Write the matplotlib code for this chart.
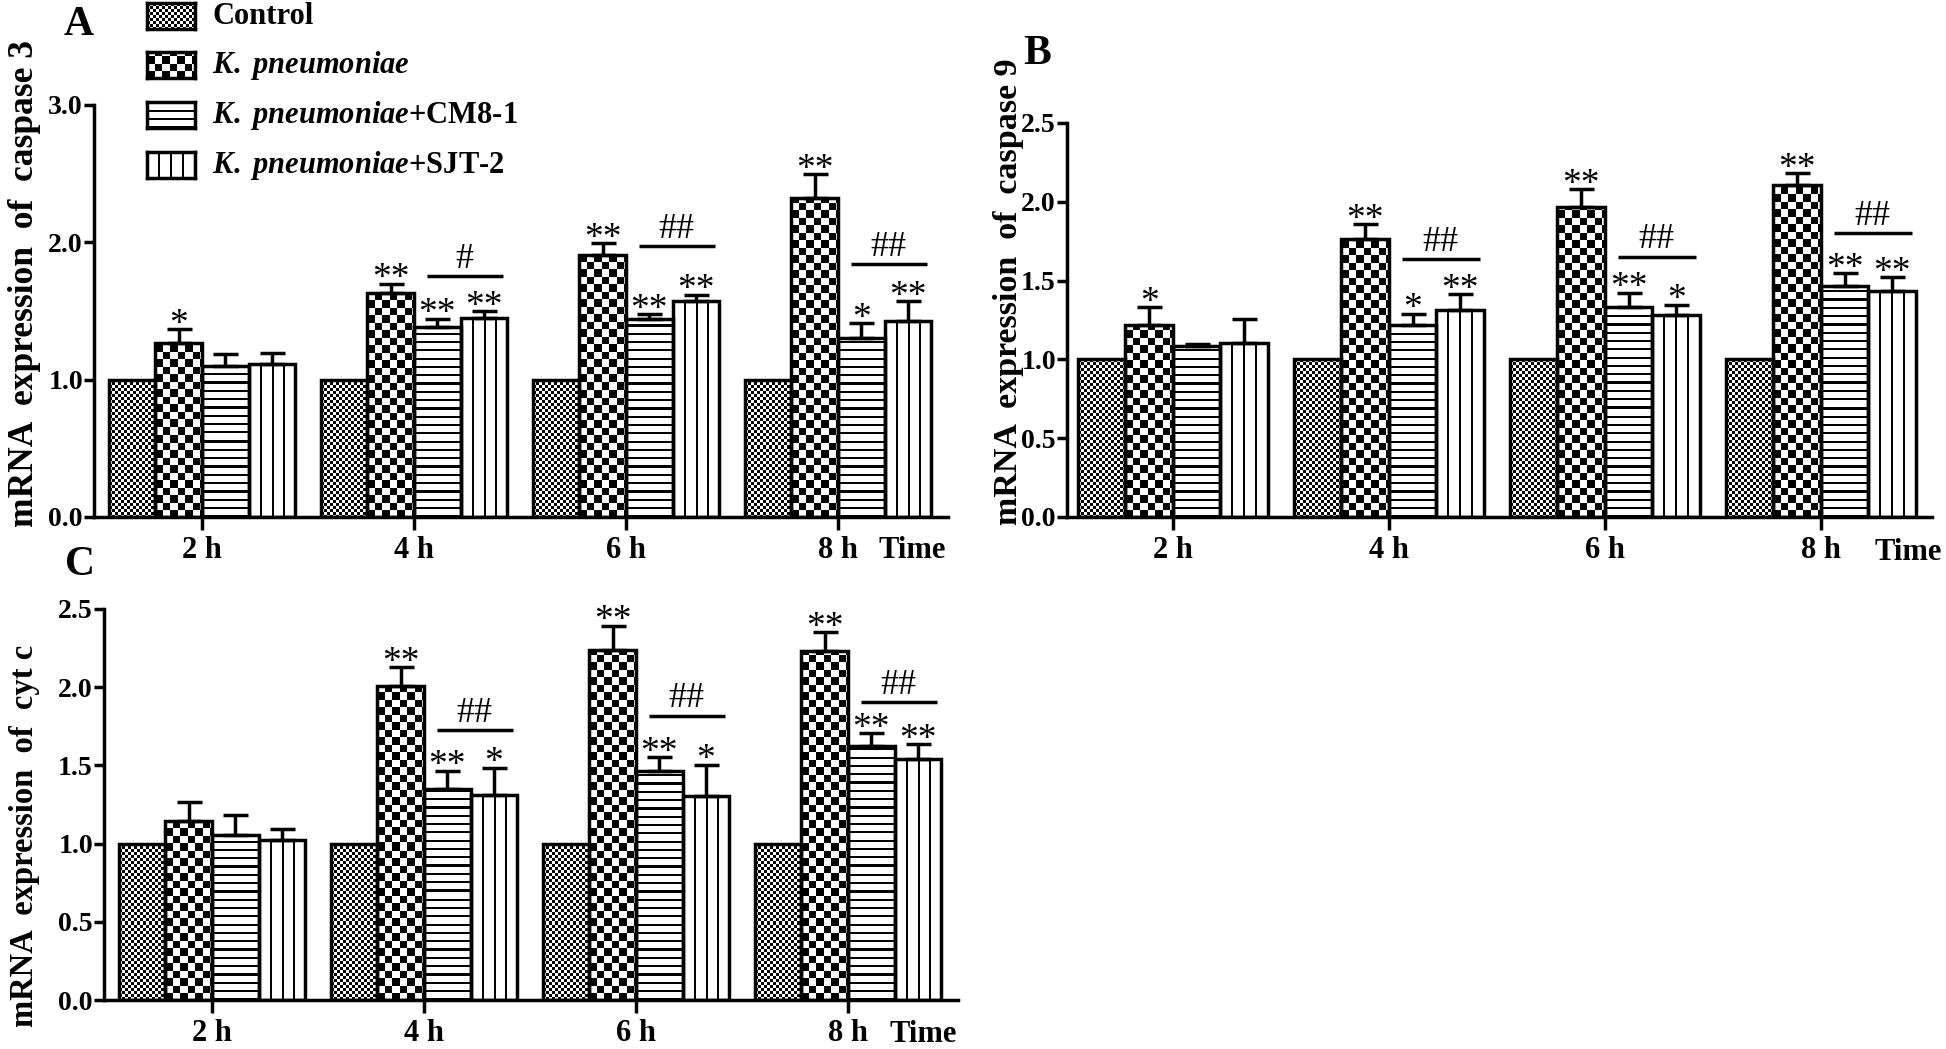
import numpy as np
import matplotlib
matplotlib.use('Agg')
import matplotlib.pyplot as plt

plt.rcParams['font.family'] = 'Liberation Serif'
plt.rcParams['font.weight'] = 'bold'
plt.rcParams['mathtext.fontset'] = 'custom'
plt.rcParams['mathtext.it'] = 'Liberation Serif:italic:bold'
plt.rcParams['mathtext.rm'] = 'Liberation Serif:bold'

'''
data (read off the figure)
'''

times = ['2 h', '4 h', '6 h', '8 h']
groups = ['Control', r'$\mathit{K.}$ $\mathit{pneumoniae}$',
          r'$\mathit{K.}$ $\mathit{pneumoniae}$+CM8-1', r'$\mathit{K.}$ $\mathit{pneumoniae}$+SJT-2']

# A: caspase 3
casp3_control = [1.0, 1.0, 1.0, 1.0]
casp3_kp = [1.27, 1.63, 1.91, 2.32]
casp3_kp_err = [0.10, 0.07, 0.085, 0.18]
casp3_cm8 = [1.10, 1.38, 1.44, 1.30]
casp3_cm8_err = [0.09, 0.065, 0.035, 0.115]
casp3_sjt = [1.115, 1.45, 1.57, 1.43]
casp3_sjt_err = [0.08, 0.05, 0.05, 0.14]
casp3_stars_kp = ['*', '**', '**', '**']
casp3_stars_cm8 = ['', '**', '**', '*']
casp3_stars_sjt = ['', '**', '**', '**']
casp3_hash = ['', '#', '##', '##']
casp3_hash_y = [0, 1.755, 1.97, 1.84]

# B: caspase 9
casp9_control = [1.0, 1.0, 1.0, 1.0]
casp9_kp = [1.216, 1.761, 1.966, 2.107]
casp9_kp_err = [0.114, 0.10, 0.114, 0.075]
casp9_cm8 = [1.084, 1.216, 1.334, 1.466]
casp9_cm8_err = [0.014, 0.075, 0.09, 0.08]
casp9_sjt = [1.107, 1.311, 1.284, 1.432]
casp9_sjt_err = [0.148, 0.105, 0.064, 0.09]
casp9_stars_kp = ['*', '**', '**', '**']
casp9_stars_cm8 = ['', '*', '**', '**']
casp9_stars_sjt = ['', '**', '*', '**']
casp9_hash = ['', '##', '##', '##']
casp9_hash_y = [0, 1.636, 1.652, 1.80]

# C: cyt c
cytc_control = [1.0, 1.0, 1.0, 1.0]
cytc_kp = [1.143, 2.008, 2.239, 2.232]
cytc_kp_err = [0.12, 0.12, 0.155, 0.12]
cytc_cm8 = [1.053, 1.352, 1.461, 1.625]
cytc_cm8_err = [0.13, 0.115, 0.095, 0.08]
cytc_sjt = [1.023, 1.311, 1.305, 1.542]
cytc_sjt_err = [0.07, 0.175, 0.2, 0.095]
cytc_stars_kp = ['', '**', '**', '**']
cytc_stars_cm8 = ['', '**', '**', '**']
cytc_stars_sjt = ['', '*', '*', '**']
cytc_hash = ['', '##', '##', '##']
cytc_hash_y = [0, 1.727, 1.819, 1.904]

'''
figure
'''

W, H, DPI = 1946, 1049, 100
fig = plt.figure(figsize=(W / DPI, H / DPI), dpi=DPI)
fig.patch.set_facecolor('white')

bar_w = 0.22
offsets = [-0.33, -0.11, 0.11, 0.33]


def px_axes(left, top, right, bottom):
    return fig.add_axes([left / W, 1 - bottom / H, (right - left) / W, (bottom - top) / H])


def fig_text(x, y, s, **kw):
    fig.text(x / W, 1 - y / H, s, **kw)


def fill_pattern(kind, w, h):
    yy, xx = np.mgrid[0:h, 0:w]
    if kind == 0:  # fine checker
        img = (xx // 3 + yy // 3) % 2
    elif kind == 1:  # coarse checker
        img = (np.floor(xx / 7.5) + np.floor((h - yy) / 7.5)) % 2
    elif kind == 2:  # horizontal lines
        img = ((h - yy) % 8.3) > 2.2
    else:  # vertical lines
        img = np.ones((h, w))
        for k in (1, 2, 3):
            c = int(round(w * k / 4.0))
            img[:, c - 1:c + 1] = 0
    return img.astype(float)


def draw_panel(ax, xlim, ymax, ystep, values, errors, stars, hash_text, hash_y):
    x = np.arange(len(times))
    ax.set_xlim(*xlim)
    ax.set_ylim(0, ymax)
    for k in range(4):
        xs = x + offsets[k]
        bars = ax.bar(xs, values[k], width=bar_w, facecolor='none',
                      edgecolor='black', linewidth=2.5, zorder=3)
        for b in bars:
            x0, x1 = b.get_x(), b.get_x() + b.get_width()
            y1 = b.get_height()
            (p0x, p0y), (p1x, p1y) = ax.transData.transform([(x0, 0), (x1, y1)])
            w = max(int(round(p1x - p0x)), 1)
            h = max(int(round(p1y - p0y)), 1)
            im = ax.imshow(fill_pattern(k, w, h), extent=(x0, x1, 0, y1), cmap='gray',
                           vmin=0, vmax=1, interpolation='nearest', aspect='auto', zorder=2)
            im.set_clip_path(b)
        if errors[k] is not None:
            ax.errorbar(xs, values[k], yerr=[np.zeros(len(xs)), errors[k]], fmt='none',
                        ecolor='black', elinewidth=2.5, capsize=9, capthick=2.5, zorder=4)
            for i in range(len(xs)):
                if stars[k][i]:
                    ax.annotate(stars[k][i], (xs[i], values[k][i] + errors[k][i]),
                                xytext=(0, -3.5), textcoords='offset points',
                                ha='center', va='baseline', fontsize=27,
                                fontweight='normal', annotation_clip=False)
    for i in range(len(x)):
        if hash_text[i]:
            ax.plot([x[i] + 0.06, x[i] + 0.42], [hash_y[i], hash_y[i]],
                    color='black', linewidth=2.5, solid_capstyle='butt', clip_on=False)
            ax.annotate(hash_text[i], (x[i] + 0.24, hash_y[i]), xytext=(0, 6),
                        textcoords='offset points', ha='center', va='baseline',
                        fontsize=26, fontweight='normal', annotation_clip=False)
    ax.set_xlim(*xlim)
    ax.set_ylim(0, ymax)
    ax.set_yticks(np.arange(0, ymax + 0.01, ystep))
    ax.set_yticklabels(['%.1f' % v for v in np.arange(0, ymax + 0.01, ystep)])
    ax.set_xticks(x)
    ax.set_xticklabels(times)
    for s in ['top', 'right']:
        ax.spines[s].set_visible(False)
    for s in ['left', 'bottom']:
        ax.spines[s].set_linewidth(2.5)
    ax.tick_params(axis='y', direction='out', length=7, width=2.5, pad=1, labelsize=20)
    ax.tick_params(axis='x', direction='out', length=9, width=2.5, pad=5, labelsize=22)
    ax.patch.set_alpha(0)


# panel A
axA = px_axes(94, 105, 948, 517)
draw_panel(axA, (-0.509, 3.519), 3.0, 1.0,
           [casp3_control, casp3_kp, casp3_cm8, casp3_sjt],
           [None, casp3_kp_err, casp3_cm8_err, casp3_sjt_err],
           [None, casp3_stars_kp, casp3_stars_cm8, casp3_stars_sjt],
           casp3_hash, casp3_hash_y)

# panel B
axB = px_axes(1067, 123, 1932, 517)
draw_panel(axB, (-0.49, 3.514), 2.5, 0.5,
           [casp9_control, casp9_kp, casp9_cm8, casp9_sjt],
           [None, casp9_kp_err, casp9_cm8_err, casp9_sjt_err],
           [None, casp9_stars_kp, casp9_stars_cm8, casp9_stars_sjt],
           casp9_hash, casp9_hash_y)

# panel C
axC = px_axes(104, 609, 958, 1000)
draw_panel(axC, (-0.509, 3.519), 2.5, 0.5,
           [cytc_control, cytc_kp, cytc_cm8, cytc_sjt],
           [None, cytc_kp_err, cytc_cm8_err, cytc_sjt_err],
           [None, cytc_stars_kp, cytc_stars_cm8, cytc_stars_sjt],
           cytc_hash, cytc_hash_y)

# axis titles, panel letters
fig_text(25, 283, 'mRNA  expression  of  caspase 3', rotation=90, ha='center', va='center', fontsize=25.5)
fig_text(1008, 292, 'mRNA  expression  of  caspase 9', rotation=90, ha='center', va='center', fontsize=24.5)
fig_text(25, 836, 'mRNA  expression  of  cyt c', rotation=90, ha='center', va='center', fontsize=23.5)
fig_text(912, 550, 'Time', ha='center', va='center', fontsize=22)
fig_text(1908, 552, 'Time', ha='center', va='center', fontsize=22)
fig_text(923, 1035, 'Time', ha='center', va='center', fontsize=22)
fig_text(79, 25, 'A', ha='center', va='center', fontsize=30)
fig_text(1037, 54, 'B', ha='center', va='center', fontsize=30)
fig_text(80, 565, 'C', ha='center', va='center', fontsize=30)

# legend (swatches drawn with the same fills as the bars)
leg_rows = [16, 65, 115, 165]
for k, (row, label) in enumerate(zip(leg_rows, groups)):
    sw = px_axes(147, row - 13, 195, row + 13)
    sw.imshow(fill_pattern(k, 48, 26), cmap='gray', vmin=0, vmax=1,
              interpolation='nearest', aspect='auto')
    sw.set_xticks([])
    sw.set_yticks([])
    for s in sw.spines.values():
        s.set_linewidth(2.5)
    fig_text(212, row, label, ha='left', va='center', fontsize=22)

fig.savefig('out.png', dpi=DPI)
